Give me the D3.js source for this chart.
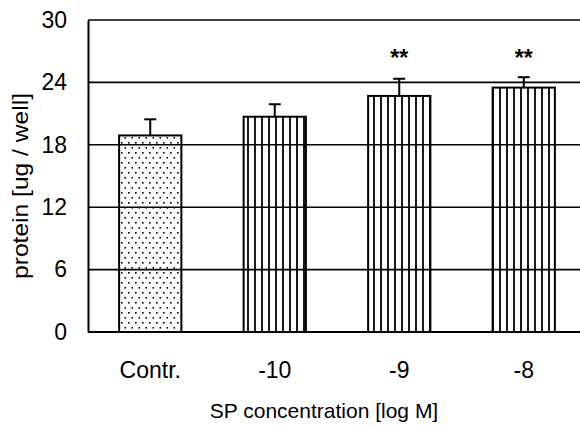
<!DOCTYPE html>
<meta charset="utf-8">
<style>
    body { margin: 0; background: #fff; }
    text { font-family: "Liberation Sans", Arial, sans-serif; fill: #000; }
    .tick text { font-size: 23px; }
    .grid line { stroke: #000; stroke-width: 1.6px; }
    .bar { stroke: #000; stroke-width: 2px; }
    .err { stroke: #000; stroke-width: 2px; fill: none; }
</style>
<body>
    <svg width="580" height="426"></svg>
</body>
<script src="https://d3js.org/d3.v7.min.js"></script>
<script>
    // data
    var categories = ["Contr.", "-10", "-9", "-8"];
    var means = [18.9, 20.7, 22.7, 23.5];
    var errors = [1.55, 1.2, 1.65, 1.0];
    var marks = ["", "", "**", "**"];
    var yTicks = [0, 6, 12, 18, 24, 30];

    var svg = d3.select("svg"),
        width = +svg.attr("width"),
        height = +svg.attr("height");

    // note: "top" is taken by window.top, so use other names
    var plotLeft = 88, plotTop = 20, plotBottom = 332;

    var x = d3.scaleBand()
        .domain(categories)
        .range([plotLeft, plotLeft + 4 * 124.5])
        .paddingInner(0.5)
        .paddingOuter(0.25);

    var y = d3.scaleLinear()
        .domain([0, 30])
        .range([plotBottom, plotTop]);

    // patterns: dots for control, vertical lines for the rest
    var defs = svg.append("defs");
    var dots = defs.append("pattern")
        .attr("id", "dots")
        .attr("patternUnits", "userSpaceOnUse")
        .attr("width", 7).attr("height", 10);
    dots.append("rect").attr("x", 2).attr("y", 2).attr("width", 1.6).attr("height", 1.6).attr("fill", "#000");
    dots.append("rect").attr("x", 5.5).attr("y", 7).attr("width", 1.6).attr("height", 1.6).attr("fill", "#000");

    var stripes = defs.append("pattern")
        .attr("id", "stripes")
        .attr("patternUnits", "userSpaceOnUse")
        .attr("width", 7).attr("height", 10);
    stripes.append("line")
        .attr("x1", 3).attr("x2", 3).attr("y1", 0).attr("y2", 10)
        .attr("stroke", "#000").attr("stroke-width", 1.8);

    // horizontal grid lines running to the right edge
    svg.append("g")
        .attr("class", "grid")
        .selectAll("line")
        .data(yTicks)
        .enter().append("line")
        .attr("x1", plotLeft).attr("x2", width)
        .attr("y1", function (d) { return y(d); })
        .attr("y2", function (d) { return y(d); })
        .style("stroke-width", function (d) { return d === 0 ? 2 : 1.6; });

    // y axis
    var yAxis = svg.append("g")
        .attr("transform", "translate(" + plotLeft + ",0)")
        .call(d3.axisLeft(y).tickValues(yTicks).tickSize(0).tickPadding(21));
    yAxis.select(".domain").attr("stroke", "#000").attr("stroke-width", 2);

    // x labels
    var xAxis = svg.append("g")
        .attr("transform", "translate(0," + plotBottom + ")")
        .call(d3.axisBottom(x).tickSize(0).tickPadding(30));
    xAxis.select(".domain").remove();

    // bars
    svg.selectAll(".bar")
        .data(categories)
        .enter().append("rect")
        .attr("class", "bar")
        .attr("x", function (d) { return x(d); })
        .attr("width", x.bandwidth())
        .attr("y", function (d, i) { return y(means[i]); })
        .attr("height", function (d, i) { return plotBottom - y(means[i]); })
        .attr("fill", function (d, i) { return i === 0 ? "url(#dots)" : "url(#stripes)"; });

    // error bars (upper only)
    var eg = svg.selectAll(".errG")
        .data(categories)
        .enter().append("g")
        .attr("class", "errG");
    eg.append("line")
        .attr("class", "err")
        .attr("x1", function (d) { return x(d) + x.bandwidth() / 2; })
        .attr("x2", function (d) { return x(d) + x.bandwidth() / 2; })
        .attr("y1", function (d, i) { return y(means[i]); })
        .attr("y2", function (d, i) { return y(means[i] + errors[i]); });
    eg.append("line")
        .attr("class", "err")
        .attr("x1", function (d) { return x(d) + x.bandwidth() / 2 - 6; })
        .attr("x2", function (d) { return x(d) + x.bandwidth() / 2 + 6; })
        .attr("y1", function (d, i) { return y(means[i] + errors[i]); })
        .attr("y2", function (d, i) { return y(means[i] + errors[i]); });

    // significance stars
    svg.selectAll(".star")
        .data(categories)
        .enter().append("text")
        .attr("class", "star")
        .attr("x", function (d) { return x(d) + x.bandwidth() / 2; })
        .attr("y", 66)
        .attr("text-anchor", "middle")
        .style("font-size", "23px")
        .style("font-weight", "bold")
        .text(function (d, i) { return marks[i]; });

    // axis titles
    svg.append("text")
        .attr("x", 324).attr("y", 418)
        .attr("text-anchor", "middle")
        .style("font-size", "21px")
        .text("SP concentration [log M]");

    svg.append("text")
        .attr("transform", "translate(28,186) rotate(-90)")
        .attr("text-anchor", "middle")
        .attr("textLength", 186)
        .attr("lengthAdjust", "spacingAndGlyphs")
        .style("font-size", "22px")
        .text("protein [ug / well]");
</script>
